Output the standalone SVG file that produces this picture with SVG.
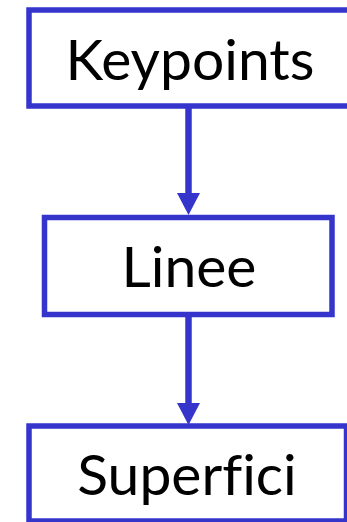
<svg xmlns="http://www.w3.org/2000/svg" width="347" height="522" viewBox="0 0 347 522">
  <style>
    .box { fill: #ffffff; stroke: #3535cc; stroke-width: 5.5; }
    .label { font-family: Lato, "Open Sans", sans-serif; font-size: 57px; fill: #000000; text-anchor: middle; font-variant-ligatures: none; font-feature-settings: "liga" 0; }
    .link { stroke: #3535cc; stroke-width: 6.5; fill: none; marker-end: url(#head); }
  </style>
  <defs>
    <marker id="head" markerUnits="userSpaceOnUse" viewBox="0 0 22 23" refX="0" refY="11.5" markerWidth="22" markerHeight="23" orient="auto">
      <path d="M0,0 L22,11.5 L0,23 Z" fill="#3535cc"/>
    </marker>
  </defs>
  <rect width="347" height="522" fill="#ffffff"/>

  <g id="connectors">
    <line class="link" x1="188.5" y1="108" x2="188.5" y2="193"/>
    <line class="link" x1="188.5" y1="317" x2="188.5" y2="403"/>
  </g>

  <g id="keypoints">
    <rect class="box" x="29" y="10" width="322" height="96"/>
    <text class="label" x="190" y="79.5">Keypoints</text>
  </g>

  <g id="linee">
    <rect class="box" x="44.5" y="217.5" width="287.5" height="97"/>
    <text class="label" x="189" y="287">Linee</text>
  </g>

  <g id="superfici">
    <rect class="box" x="29" y="426" width="317.5" height="95"/>
    <text class="label" x="187" y="495">Superfici</text>
  </g>
</svg>
